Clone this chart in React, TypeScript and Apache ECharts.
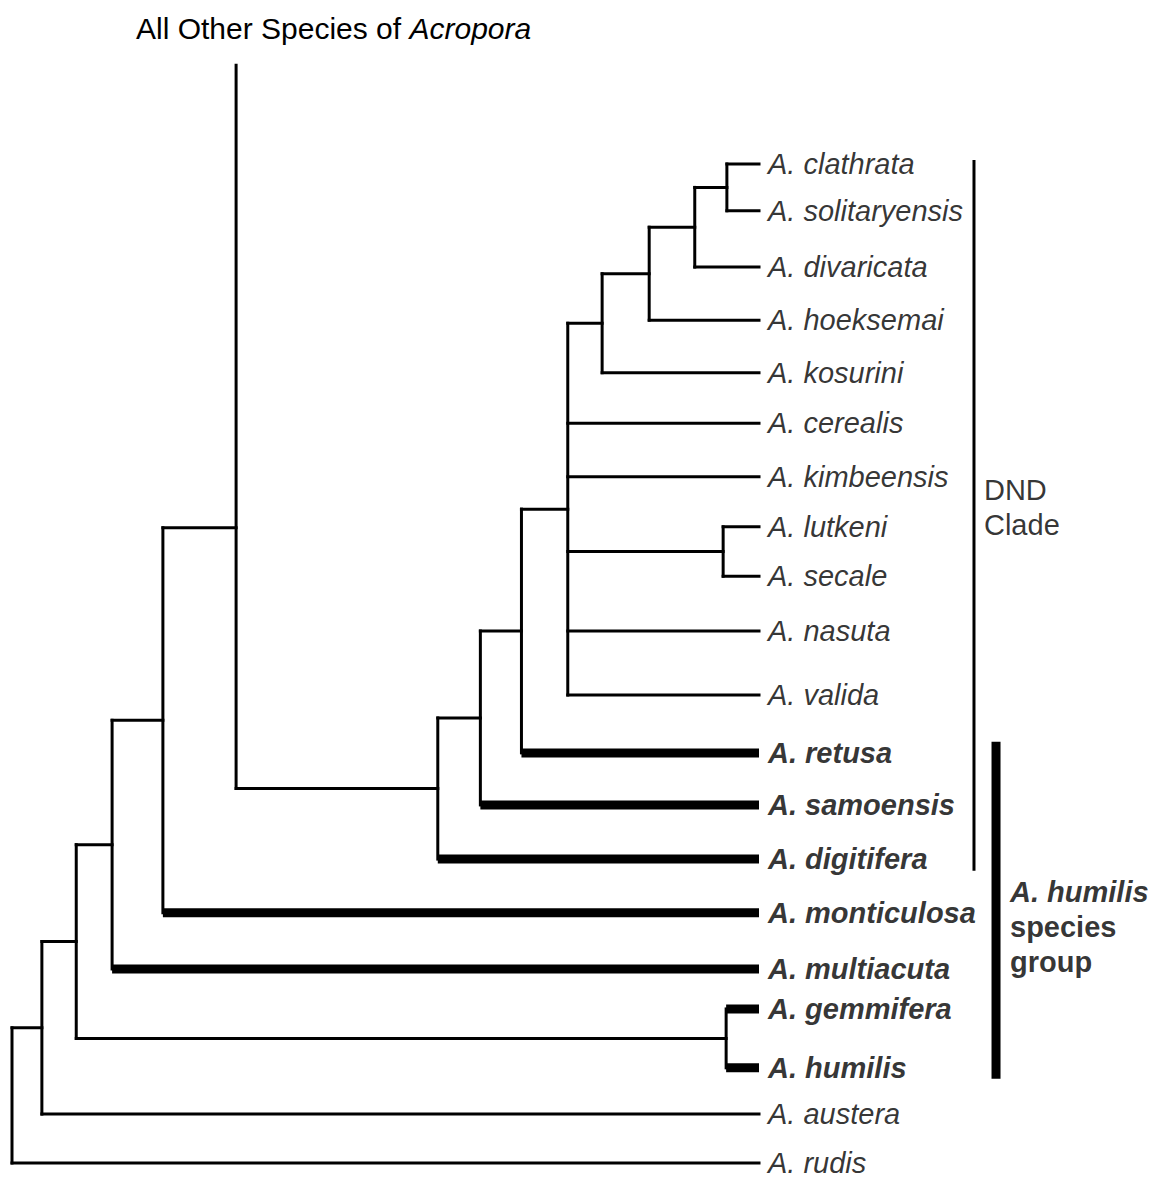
import React, { useEffect, useRef } from "react";
import * as echarts from "echarts";

const FONT = "'Liberation Sans', Arial, sans-serif";

// Leaves (top to bottom), their vertical row positions and emphasis
const leafNames = [
  "A. clathrata", "A. solitaryensis", "A. divaricata", "A. hoeksemai", "A. kosurini",
  "A. cerealis", "A. kimbeensis", "A. lutkeni", "A. secale", "A. nasuta", "A. valida",
  "A. retusa", "A. samoensis", "A. digitifera", "A. monticulosa", "A. multiacuta",
  "A. gemmifera", "A. humilis", "A. austera", "A. rudis",
];
const leafRows = [
  1.0, 1.89, 2.96, 3.97, 4.97, 5.93, 6.95, 7.9, 8.84, 9.88, 11.1,
  12.2, 13.19, 14.22, 15.24, 16.31, 17.07, 18.19, 19.07, 20.0,
];
const leafBold = [
  false, false, false, false, false, false, false, false, false, false, false,
  true, true, true, true, true, true, true, false, false,
];
const tipDepth = 100;

// Stem leading to all other Acropora species
const otherName = "OTHER";
const otherDepth = 30;
const otherRow = -0.88;

// Internal nodes: name, depth (branch position), children (top to bottom)
const nodeNames = ["root", "A", "B", "C", "D", "E", "F", "G", "H", "I", "M", "L", "K", "J", "N", "O"];
const nodeDepths = [0, 4, 8.6, 13.4, 20.2, 30, 57, 62.7, 68.2, 74.4, 79, 85.3, 91.4, 95.7, 95.2, 95.6];
const nodeChildren: string[][] = [
  ["A", "A. rudis"],
  ["B", "A. austera"],
  ["C", "O"],
  ["D", "A. multiacuta"],
  ["E", "A. monticulosa"],
  [otherName, "F"],
  ["G", "A. digitifera"],
  ["H", "A. samoensis"],
  ["I", "A. retusa"],
  ["M", "A. cerealis", "A. kimbeensis", "N", "A. nasuta", "A. valida"],
  ["L", "A. kosurini"],
  ["K", "A. hoeksemai"],
  ["J", "A. divaricata"],
  ["A. clathrata", "A. solitaryensis"],
  ["A. lutkeni", "A. secale"],
  ["A. gemmifera", "A. humilis"],
];
// Node whose joining point is not centred between its children
const rowOverrides: Record<string, number> = { E: 7.92 };

// Clade bars: [x position, top row, bottom row]
const dndBar = [128.78, 0.924, 14.44];
const humilisBar = [131.73, 11.99, 18.4];
const dndLabelRow = 7.53;
const humilisLabelRow = 15.51;

function App() {
  const ref = useRef<HTMLDivElement>(null);
  useEffect(() => {
    document.body.style.margin = "0";
    const chart = echarts.init(ref.current!, null, { renderer: "svg" });

    const depthOf = (n: string): number => {
      if (n === otherName) return otherDepth;
      const li = leafNames.indexOf(n);
      if (li >= 0) return tipDepth;
      return nodeDepths[nodeNames.indexOf(n)];
    };
    const rowOf = (n: string): number => {
      if (n === otherName) return otherRow;
      const li = leafNames.indexOf(n);
      if (li >= 0) return leafRows[li];
      if (rowOverrides[n] !== undefined) return rowOverrides[n];
      const ch = nodeChildren[nodeNames.indexOf(n)];
      return (rowOf(ch[0]) + rowOf(ch[ch.length - 1])) / 2;
    };
    const isBold = (n: string) => {
      const li = leafNames.indexOf(n);
      return li >= 0 && leafBold[li];
    };

    // segment: [x1, y1, x2, y2, width, squareCap]
    const segs: number[][] = [];
    nodeNames.forEach((n, i) => {
      const d = nodeDepths[i];
      const ch = nodeChildren[i];
      segs.push([d, rowOf(ch[0]), d, rowOf(ch[ch.length - 1]), 3, 1]);
      ch.forEach((c) => {
        const cd = depthOf(c);
        if (cd <= d) return;
        const bold = isBold(c);
        segs.push([d, rowOf(c), cd, rowOf(c), bold ? 9 : 3, bold ? 0 : 1]);
      });
    });
    segs.push([dndBar[0], dndBar[1], dndBar[0], dndBar[2], 3, 0]);
    segs.push([humilisBar[0], humilisBar[1], humilisBar[0], humilisBar[2], 9, 0]);

    const leafData = leafNames.map((n, i) => ({
      value: [tipDepth, leafRows[i]],
      name: n,
      label: { fontWeight: leafBold[i] ? "bold" : "normal" },
    }));

    chart.setOption({
      animation: false,
      backgroundColor: "#fff",
      title: {
        text: "{n|All Other Species of }{i|Acropora}",
        left: 136,
        top: 13,
        padding: 0,
        textStyle: {
          rich: {
            n: { fontSize: 30, fontFamily: FONT, color: "#000", fontWeight: "normal", lineHeight: 30 },
            i: { fontSize: 30, fontFamily: FONT, color: "#000", fontStyle: "italic", fontWeight: "normal", lineHeight: 30 },
          },
        },
      },
      grid: { left: 12, top: 58.84, width: 1120.5, height: 1104.16 },
      xAxis: { type: "value", min: 0, max: 150, show: false },
      yAxis: { type: "value", min: -1, max: 20, inverse: true, show: false },
      series: [
        {
          type: "custom",
          coordinateSystem: "cartesian2d",
          silent: true,
          clip: false,
          data: segs,
          encode: { x: [0, 2], y: [1, 3] },
          renderItem: (params: any, api: any) => {
            const p1 = api.coord([api.value(0), api.value(1)]);
            const p2 = api.coord([api.value(2), api.value(3)]);
            return {
              type: "line",
              shape: { x1: p1[0], y1: p1[1], x2: p2[0], y2: p2[1] },
              style: {
                stroke: "#000",
                lineWidth: api.value(4),
                lineCap: api.value(5) === 1 ? "square" : "butt",
              },
            };
          },
        },
        {
          type: "scatter",
          silent: true,
          symbolSize: 0,
          clip: false,
          data: leafData,
          label: {
            show: true,
            position: "right",
            distance: 9,
            formatter: (p: any) => p.name,
            fontSize: 29,
            lineHeight: 26,
            fontFamily: FONT,
            fontStyle: "italic",
            color: "#000",
          },
        },
        {
          type: "scatter",
          silent: true,
          symbolSize: 0,
          clip: false,
          data: [
            {
              value: [dndBar[0], dndLabelRow],
              label: {
                distance: 10,
                formatter: "DND\nClade",
                fontSize: 29,
                lineHeight: 35,
                fontFamily: FONT,
                color: "#000",
              },
            },
            {
              value: [humilisBar[0], humilisLabelRow],
              label: {
                distance: 14,
                formatter: "{a|A. humilis}\n{b|species}\n{b|group}",
                rich: {
                  a: { fontSize: 29, lineHeight: 35, fontFamily: FONT, fontStyle: "italic", fontWeight: "bold", color: "#000" },
                  b: { fontSize: 29, lineHeight: 35, fontFamily: FONT, fontWeight: "bold", color: "#000" },
                },
              },
            },
          ],
          label: { show: true, position: "right", align: "left" },
        },
      ],
    });
    return () => chart.dispose();
  }, []);
  return (
    <div
      ref={ref}
      style={{ position: "absolute", left: 0, top: 0, width: 1164, height: 1177 }}
    />
  );
}

export default App;
